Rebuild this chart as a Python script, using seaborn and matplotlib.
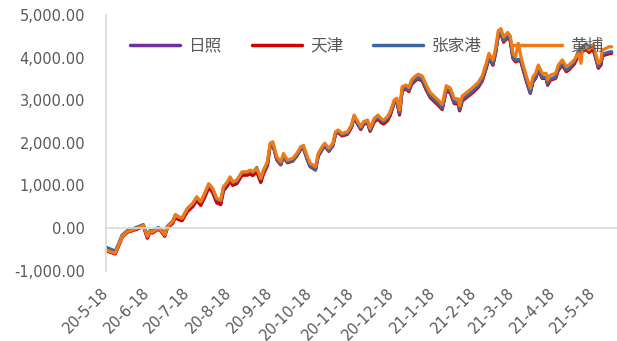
import pandas as pd
import matplotlib
matplotlib.use("Agg")
import matplotlib.pyplot as plt
from matplotlib.ticker import FuncFormatter
import seaborn as sns

# 距 2020-05-18 的天数
days = [0, 3, 7, 9, 12, 16, 20, 23, 28, 31, 33, 35, 39, 41, 44, 46, 50, 52, 54, 57,
        61, 65, 68, 71, 74, 77, 80, 83, 86, 88, 91, 93, 95, 98, 102, 106, 108, 110, 113, 116,
        118, 121, 123, 125, 128, 131, 133, 136, 140, 143, 146, 148, 151, 153, 157, 159, 162, 164, 167, 170,
        172, 174, 177, 181, 184, 186, 188, 191, 193, 196, 198, 201, 204, 206, 208, 211, 213, 216, 218, 220,
        222, 225, 227, 229, 232, 234, 237, 240, 243, 247, 249, 252, 255, 258, 261, 264, 265, 267, 271, 275,
        279, 282, 285, 287, 290, 292, 294, 296, 298, 301, 303, 305, 307, 309, 311, 313, 316, 318, 320, 322,
        324, 327, 330, 331, 333, 337, 339, 342, 345, 347, 351, 354, 356, 357, 360, 362, 365, 367, 369, 371,
        372, 375, 377, 379]

huangpu = [-510, -555, -590, -440, -200, -85, -45, -10, 60, -200, -85, -95, -10, -45, -165, 30, 150, 305, 265, 230,
           460, 580, 735, 620, 815, 1040, 930, 700, 655, 970, 1085, 1200, 1085, 1125, 1320, 1320, 1360, 1320, 1400, 1165,
           1360, 1555, 1990, 2025, 1675, 1555, 1750, 1595, 1635, 1750, 1910, 1940, 1660, 1520, 1440, 1750, 1910, 1990, 1870, 1990,
           2260, 2300, 2220, 2260, 2420, 2650, 2535, 2380, 2495, 2535, 2340, 2575, 2650, 2575, 2535, 2615, 2730, 3005, 3045, 2770,
           3320, 3355, 3300, 3475, 3570, 3610, 3570, 3360, 3180, 3060, 3005, 2900, 3340, 3290, 3040, 3030, 2870, 3100, 3200, 3300,
           3420, 3570, 3870, 4100, 3940, 4220, 4630, 4680, 4480, 4590, 4510, 4100, 4020, 4335, 4020, 3790, 3475, 3280, 3550, 3630,
           3825, 3630, 3630, 3475, 3590, 3630, 3825, 3945, 3790, 3825, 3945, 4100, 3865, 4180, 4255, 4180, 4295, 4100, 3865, 3945,
           4180, 4220, 4255, 4255]

zhangjiagang = [-450, -490, -540, -400, -170, -60, -20, 15, 80, -170, -60, -70, 10, -20, -140, 45, 160, 310, 270, 225,
                455, 570, 720, 600, 800, 1020, 900, 670, 630, 940, 1060, 1180, 1060, 1100, 1300, 1300, 1340, 1300, 1420, 1150,
                1330, 1520, 1940, 1980, 1620, 1490, 1690, 1540, 1580, 1700, 1860, 1890, 1600, 1450, 1370, 1690, 1850, 1940, 1810, 1940,
                2210, 2260, 2180, 2220, 2380, 2600, 2490, 2330, 2450, 2490, 2290, 2530, 2600, 2530, 2490, 2570, 2680, 2950, 2990, 2700,
                3260, 3290, 3230, 3400, 3490, 3530, 3490, 3280, 3100, 2980, 2920, 2820, 3260, 3210, 2960, 2950, 2790, 3020, 3120, 3220,
                3340, 3490, 3780, 4010, 3850, 4130, 4540, 4590, 4390, 4500, 4420, 4010, 3930, 3960, 3930, 3700, 3380, 3170, 3460, 3540,
                3740, 3540, 3540, 3390, 3500, 3540, 3740, 3860, 3710, 3750, 3900, 4150, 4200, 4250, 4320, 4240, 4300, 4030, 3790, 3860,
                4080, 4110, 4130, 4140]

tianjin = [-530, -570, -610, -460, -220, -100, -60, -30, 40, -230, -100, -115, -30, -60, -190, 5, 110, 260, 200, 170,
           390, 500, 650, 530, 720, 950, 830, 590, 550, 870, 990, 1110, 1000, 1040, 1240, 1240, 1270, 1230, 1320, 1070,
           1270, 1470, 1920, 1960, 1600, 1480, 1680, 1530, 1570, 1690, 1850, 1870, 1590, 1440, 1360, 1680, 1840, 1930, 1800, 1930,
           2200, 2240, 2160, 2200, 2360, 2590, 2470, 2310, 2430, 2470, 2270, 2490, 2560, 2480, 2440, 2520, 2640, 2930, 2970, 2650,
           3230, 3260, 3200, 3370, 3460, 3500, 3450, 3240, 3060, 2940, 2880, 2780, 3220, 3170, 2920, 2910, 2750, 2980, 3080, 3180,
           3300, 3450, 3750, 3980, 3820, 4100, 4510, 4560, 4360, 4470, 4390, 3980, 3900, 3930, 3900, 3670, 3350, 3160, 3430, 3510,
           3700, 3510, 3510, 3350, 3470, 3510, 3700, 3820, 3670, 3710, 3850, 4050, 4100, 4140, 4200, 4120, 4200, 3990, 3750, 3820,
           4040, 4070, 4090, 4100]

rizhao = [-520, -560, -600, -450, -210, -95, -55, -25, 45, -240, -105, -110, -25, -65, -195, 10, 120, 270, 215, 180,
          400, 510, 660, 540, 730, 960, 845, 600, 560, 880, 1000, 1120, 1010, 1050, 1250, 1250, 1285, 1240, 1330, 1080,
          1280, 1480, 1930, 1970, 1610, 1490, 1690, 1540, 1580, 1700, 1855, 1880, 1600, 1450, 1370, 1690, 1850, 1940, 1810, 1940,
          2210, 2250, 2170, 2210, 2370, 2640, 2480, 2320, 2440, 2480, 2280, 2500, 2570, 2490, 2450, 2530, 2650, 2960, 2990, 2680,
          3250, 3280, 3220, 3390, 3480, 3520, 3470, 3260, 3080, 2960, 2900, 2800, 3240, 3190, 2940, 2930, 2770, 3000, 3100, 3200,
          3320, 3470, 3770, 4000, 3840, 4120, 4530, 4580, 4380, 4490, 4410, 4000, 3920, 3950, 3920, 3690, 3370, 3180, 3450, 3530,
          3720, 3530, 3530, 3370, 3490, 3530, 3720, 3840, 3690, 3730, 3870, 4070, 4120, 4160, 4220, 4140, 4220, 4010, 3770, 3840,
          4060, 4090, 4110, 4120]

series_names = ['日照', '天津', '张家港', '黄埔']
colors = ['#7030A0', '#D40000', '#3B66A3', '#F07A16']
tick_labels = ['20-5-18', '20-6-18', '20-7-18', '20-8-18', '20-9-18', '20-10-18', '20-11-18',
               '20-12-18', '21-1-18', '21-2-18', '21-3-18', '21-4-18', '21-5-18']

sns.set_style('white')
plt.rcParams['font.family'] = ['Noto Sans CJK SC', 'DejaVu Sans']

start = pd.Timestamp('2020-05-18')
dates = start + pd.to_timedelta(days, unit='D')
df = pd.DataFrame({'date': dates, '日照': rizhao, '天津': tianjin,
                   '张家港': zhangjiagang, '黄埔': huangpu})
df = df.melt('date', var_name='港口', value_name='value')

fig = plt.figure(figsize=(6.17, 3.41), dpi=100)
ax = fig.add_axes([0.1718, 0.2065, 0.8282, 0.7495])

sns.lineplot(data=df, x='date', y='value', hue='港口', hue_order=series_names,
             palette=dict(zip(series_names, colors)), linewidth=2.3, ax=ax)

ax.set_xlim(start, start + pd.Timedelta(days=383))
ax.set_ylim(-1000, 5000)
ax.set_yticks(range(-1000, 5001, 1000))
ax.yaxis.set_major_formatter(FuncFormatter(lambda v, p: f'{v:,.2f}'))

tick_dates = [pd.Timestamp(2000 + int(t.split('-')[0]), int(t.split('-')[1]), int(t.split('-')[2]))
              for t in tick_labels]
ax.set_xticks(tick_dates)
ax.set_xticklabels(tick_labels)

ax.set_xlabel('')
ax.set_ylabel('')
for s in ['top', 'right']:
    ax.spines[s].set_visible(False)
ax.spines['bottom'].set_position(('data', 0))
for s in ['left', 'bottom']:
    ax.spines[s].set_color('#D9D9D9')
    ax.spines[s].set_linewidth(1.2)

ax.tick_params(axis='x', direction='out', length=4, width=1.2, color='#D9D9D9',
               labelcolor='#595959', labelsize=10.5, pad=41)
ax.tick_params(axis='y', direction='out', length=4, width=1.2, color='#D9D9D9',
               labelcolor='#595959', labelsize=10.5, pad=11)

# 坐标轴数字用 DejaVu Sans, 日期标签斜放
for lab in ax.get_xticklabels():
    lab.set_family('DejaVu Sans')
    lab.set_rotation(45)
    lab.set_ha('right')
    lab.set_va('center')
    lab.set_rotation_mode('anchor')
for lab in ax.get_yticklabels():
    lab.set_family('DejaVu Sans')

handles, labels = ax.get_legend_handles_labels()
leg = ax.legend(handles, labels, ncol=4, loc='upper center', bbox_to_anchor=(0.51, 0.97),
                frameon=False, handlelength=3.0, columnspacing=1.8, handletextpad=0.5,
                fontsize=12, labelcolor='#595959')
for line in leg.get_lines():
    line.set_linewidth(2.5)

fig.savefig('out.png', dpi=100)
